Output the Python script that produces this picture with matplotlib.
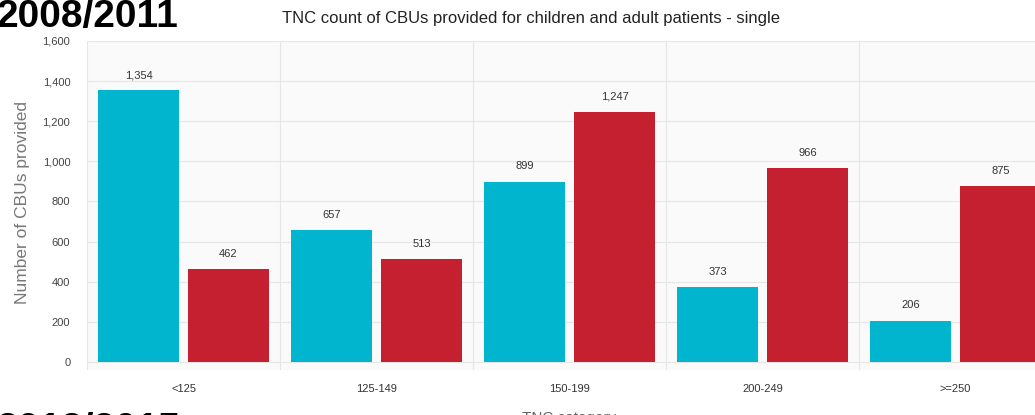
import numpy as np
import matplotlib.pyplot as plt

plt.rcParams['font.family'] = ['Liberation Sans', 'DejaVu Sans']

# TNC categories and counts of CBUs
categories = ['<125', '125-149', '150-199', '200-249', '>=250']
children = [1354, 657, 899, 373, 206]
adults = [462, 513, 1247, 966, 875]
yticks = [0, 200, 400, 600, 800, 1000, 1200, 1400, 1600]

cyan = '#00b5cd'
red = '#c4202f'

fig = plt.figure(figsize=(10.35, 4.15), dpi=100)
ax = fig.add_axes([87 / 1035, 45 / 415, 965 / 1035, 329 / 415])
ax.set_facecolor('#fafafa')

x = np.arange(len(categories))
w = 0.415
off = 0.233
b1 = ax.bar(x - off, children, w, color=cyan, zorder=3)
b2 = ax.bar(x + off, adults, w, color=red, zorder=3)

for bars, vals in ((b1, children), (b2, adults)):
    for b, v in zip(bars, vals):
        ax.annotate(f'{v:,}', (b.get_x() + b.get_width() / 2, v),
                    xytext=(0, 11), textcoords='offset points',
                    ha='center', va='center', fontsize=8, color='#333333')

ax.set_xlim(-0.5, len(categories) - 0.5)
ax.set_ylim(-40, 1600)
ax.set_yticks(yticks)
ax.set_yticklabels([f'{t:,}' for t in yticks], fontsize=8, color='#444444')
ax.set_xticks(x)
ax.set_xticklabels(categories, fontsize=8, color='#333333')
ax.set_xticks(np.arange(-0.5, len(categories)), minor=True)
ax.tick_params(axis='both', which='both', length=0)
ax.tick_params(axis='y', pad=12)
ax.tick_params(axis='x', pad=10)
ax.grid(axis='y', color='#e6e6e6', linewidth=0.8, zorder=0)
ax.grid(axis='x', which='minor', color='#e6e6e6', linewidth=0.8, zorder=0)
for s in ax.spines.values():
    s.set_visible(False)

ax.set_xlabel('TNC category', fontsize=11, color='#666666', labelpad=12)

# y label placed by hand, a bit left of the tick labels
fig.text(23 / 1035, 1 - 203 / 415, 'Number of CBUs provided', rotation=90,
         ha='center', va='center', fontsize=12.5, color='#777777')

fig.text(531 / 1035, 1 - 18 / 415, 'TNC count of CBUs provided for children and adult patients - single',
         ha='center', va='center', fontsize=12, color='#222222')
fig.text(-3 / 1035, 1 - 27 / 415, '2008/2011', ha='left', va='baseline',
         fontsize=28, fontweight='bold', color='black')
fig.text(-3 / 1035, 1 - 440 / 415, '2012/2015', ha='left', va='baseline',
         fontsize=28, fontweight='bold', color='black')

fig.savefig('out.png', dpi=100)
